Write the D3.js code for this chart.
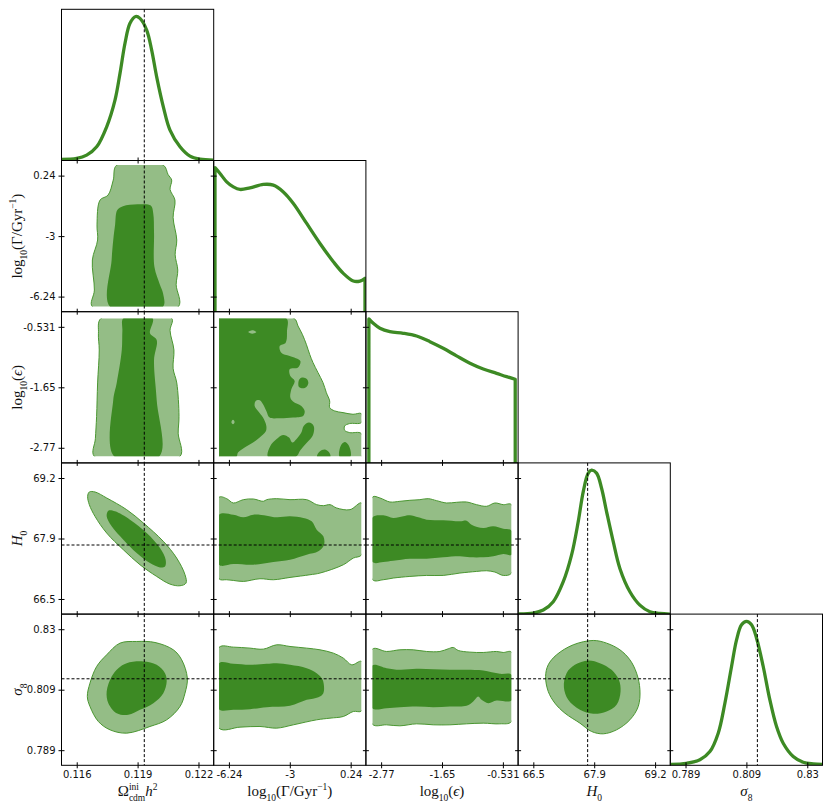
<!DOCTYPE html>
<html>
<head>
<meta charset="utf-8">
<script src="https://cdn.jsdelivr.net/npm/d3@7"></script>
<style>
  body { margin: 0; background: #fff; }
</style>
</head>
<body>
<script>
// ---- tick values and their printed labels ----
const omegaTicks = [0.1162, 0.1192, 0.1222];
const omegaLabels = ["0.116", "0.119", "0.122"];
const gammaTicks = [-6.24, -3, 0.24];
const gammaLabels = ["-6.24", "-3", "0.24"];
const epsTicks = [-2.77, -1.6505, -0.531];
const epsLabels = ["-2.77", "-1.65", "-0.531"];
const h0Ticks = [66.52, 67.85, 69.18];
const h0Labels = ["66.5", "67.9", "69.2"];
const sigmaTicks = [0.789, 0.8095, 0.830];
const sigmaLabels = ["0.789", "0.809", "0.83"];

// reference (dashed) values
const omegaRef = 0.11953;
const h0Ref = 67.707;
const sigmaRef = 0.8132;

// edges of the sampled range for the two flat-prior parameters
const gammaEdge = [-6.765, 0.805];
const epsEdge = [-2.928, -0.376];

// ---- 1D posteriors [value, relative density] ----
const omegaPost = [[0.115442,0.007],[0.116197,0.014],[0.116690,0.037],[0.117183,0.095],[0.117676,0.234],[0.118086,0.419],[0.118333,0.605],[0.118579,0.814],[0.118825,0.953],[0.119105,1.0],[0.119318,0.987],[0.119647,0.906],[0.119893,0.767],[0.120140,0.581],[0.120468,0.373],[0.120797,0.211],[0.121290,0.095],[0.121782,0.030],[0.122275,0.009],[0.122932,0.002]];
const gammaPost = [[-6.981,1.0],[-6.714,0.960],[-6.360,0.902],[-6.005,0.867],[-5.650,0.849],[-5.118,0.860],[-4.409,0.884],[-3.876,0.879],[-3.344,0.832],[-2.811,0.752],[-2.102,0.613],[-1.393,0.474],[-0.683,0.347],[-0.151,0.266],[0.381,0.213],[0.736,0.213],[1.002,0.232]];
const epsPost = [[-2.995,1.0],[-2.915,0.969],[-2.792,0.935],[-2.609,0.911],[-2.363,0.900],[-2.118,0.881],[-1.873,0.842],[-1.628,0.796],[-1.383,0.743],[-1.137,0.692],[-0.892,0.652],[-0.647,0.622],[-0.463,0.599],[-0.304,0.581]];
const h0Post = [[66.190,0.002],[66.518,0.007],[66.737,0.028],[66.955,0.086],[67.174,0.225],[67.356,0.411],[67.501,0.642],[67.611,0.851],[67.720,0.979],[67.793,1.0],[67.902,0.979],[68.011,0.874],[68.120,0.712],[68.266,0.503],[68.411,0.317],[68.630,0.155],[68.848,0.062],[69.067,0.016],[69.285,0.005],[69.504,0.0]];
const sigmaPost = [[0.783961,0.007],[0.789348,0.014],[0.793838,0.038],[0.797205,0.095],[0.800010,0.223],[0.802255,0.431],[0.804500,0.686],[0.806183,0.871],[0.807867,0.976],[0.809550,1.0],[0.811234,0.976],[0.812917,0.883],[0.815162,0.686],[0.817406,0.454],[0.819651,0.269],[0.821896,0.153],[0.825262,0.061],[0.828629,0.021],[0.831996,0.010],[0.835138,0.007]];

// ---- 2D contours [x param, y param], 95% and 68% ----
const omegaGamma95 = [[0.11817,0.80],[0.12047,0.80],[0.12070,0.3],[0.12088,0.0],[0.12080,-0.5],[0.12104,-1.07],[0.12095,-2.0],[0.12113,-3.21],[0.12105,-4.0],[0.12118,-4.82],[0.12110,-5.6],[0.12121,-6.78],[0.11697,-6.78],[0.11707,-5.89],[0.11697,-4.28],[0.11723,-3.21],[0.11720,-2.4],[0.11735,-1.07],[0.11774,-0.81],[0.11800,0.0]];
const omegaGamma68 = [[0.11809,-2.41],[0.11820,-1.6],[0.11848,-1.40],[0.11920,-1.30],[0.11985,-1.36],[0.11997,-1.77],[0.12001,-2.84],[0.12003,-4.66],[0.12030,-5.6],[0.12045,-6.05],[0.12045,-6.78],[0.11784,-6.78],[0.11792,-4.28],[0.11800,-3.21]];

const omegaEps95 = [[0.11740,-0.373],[0.12088,-0.373],[0.12080,-0.6],[0.12099,-0.96],[0.12095,-1.3],[0.12113,-1.57],[0.12124,-2.19],[0.12120,-2.5],[0.12129,-2.93],[0.11707,-2.93],[0.11712,-2.6],[0.11718,-2.19],[0.11723,-1.57],[0.11731,-0.96],[0.11727,-0.65]];
const omegaEps68 = [[0.11850,-0.373],[0.11994,-0.373],[0.11981,-0.651],[0.12014,-0.775],[0.12001,-1.145],[0.12014,-1.885],[0.12027,-2.93],[0.11805,-2.93],[0.11800,-1.885],[0.11817,-1.57],[0.11842,-0.96],[0.11845,-0.6]];

const gammaEps95 = [[-6.768,-0.374],[-2.776,-0.374],[-2.563,-0.516],[-2.333,-0.670],[-2.120,-0.855],[-1.942,-1.040],[-1.765,-1.194],[-1.499,-1.379],[-1.233,-1.564],[-1.055,-1.749],[-0.878,-1.903],[-0.878,-2.026],[-0.612,-2.088],[-0.168,-2.119],[0.364,-2.150],[0.807,-2.137],[0.807,-2.304],[0.186,-2.322],[-0.080,-2.366],[-0.080,-2.446],[0.186,-2.489],[0.807,-2.507],[0.807,-2.939],[-6.768,-2.939]];
const gammaEps68 = [[-6.768,-0.374],[-3.184,-0.374],[-3.149,-0.608],[-3.220,-0.824],[-3.539,-0.886],[-3.450,-1.009],[-3.007,-1.071],[-2.439,-1.163],[-2.563,-1.286],[-3.007,-1.317],[-2.971,-1.441],[-2.741,-1.533],[-2.918,-1.687],[-2.971,-1.841],[-2.829,-1.915],[-2.386,-1.996],[-2.209,-2.088],[-2.297,-2.181],[-2.829,-2.211],[-3.539,-2.224],[-4.071,-2.211],[-4.249,-2.088],[-4.426,-1.965],[-4.604,-1.891],[-4.816,-1.903],[-4.870,-1.996],[-4.692,-2.088],[-4.426,-2.211],[-4.249,-2.366],[-4.284,-2.470],[-4.604,-2.581],[-4.958,-2.674],[-5.402,-2.766],[-5.757,-2.859],[-5.845,-2.939],[-6.768,-2.939]];
// detached 68% blobs and small 95% islands inside the 68% area
const gammaEps68Blobs = [
  [[-2.546,-1.570],[-2.475,-1.496],[-2.297,-1.471],[-2.084,-1.502],[-2.013,-1.570],[-2.120,-1.644],[-2.297,-1.669],[-2.510,-1.644]],
  [[-4.160,-2.939],[-4.036,-2.736],[-3.716,-2.612],[-3.362,-2.532],[-3.042,-2.581],[-2.865,-2.674],[-2.652,-2.612],[-2.386,-2.489],[-2.262,-2.366],[-1.978,-2.304],[-1.730,-2.366],[-1.765,-2.532],[-2.084,-2.674],[-2.439,-2.816],[-2.687,-2.939]],
  [[-0.346,-2.939],[-0.293,-2.736],[-0.080,-2.662],[0.151,-2.736],[0.222,-2.939]],
  [[-1.552,-2.939],[-1.410,-2.840],[-1.144,-2.803],[-0.914,-2.853],[-0.843,-2.939]]
];
const gammaEpsIslands = [
  [[-5.21,-0.627],[-4.994,-0.596],[-4.78,-0.627],[-4.994,-0.658]],
  [[-6.11,-2.292],[-6.023,-2.249],[-5.935,-2.292],[-6.023,-2.335]]
];

const omegaH095 = [[0.116821,68.873],[0.117101,68.873],[0.117676,68.741],[0.118661,68.484],[0.119483,68.191],[0.120468,67.787],[0.121125,67.420],[0.121536,67.053],[0.121585,66.869],[0.121290,66.811],[0.120797,66.847],[0.120140,67.016],[0.119318,67.273],[0.118497,67.603],[0.117676,67.970],[0.117101,68.337],[0.116821,68.594],[0.116739,68.778]];
const omegaH068 = [[0.117758,68.462],[0.118086,68.448],[0.118825,68.264],[0.119647,67.970],[0.120304,67.640],[0.120583,67.383],[0.120550,67.236],[0.120304,67.214],[0.119811,67.310],[0.119154,67.530],[0.118497,67.823],[0.117922,68.117],[0.117676,68.337]];

const gammaH095 = [[-6.768,68.756],[-6.360,68.726],[-6.005,68.631],[-5.473,68.704],[-4.941,68.719],[-4.409,68.668],[-4.231,68.704],[-3.699,68.726],[-2.989,68.704],[-2.102,68.704],[-1.570,68.594],[-1.215,68.572],[-0.860,68.594],[-0.506,68.521],[0.204,68.484],[0.825,68.631],[0.825,67.493],[0.381,67.420],[-0.151,67.273],[-1.393,67.090],[-1.925,67.053],[-2.989,66.994],[-3.876,66.943],[-4.586,66.965],[-5.473,66.906],[-6.005,66.928],[-6.360,66.943],[-6.768,66.965]];
const gammaH068 = [[-6.768,68.374],[-6.005,68.374],[-5.473,68.315],[-4.941,68.374],[-4.231,68.352],[-3.699,68.315],[-2.989,68.337],[-2.279,68.301],[-1.836,68.227],[-1.570,68.044],[-1.215,67.897],[-1.179,67.714],[-1.481,67.567],[-2.102,67.493],[-2.989,67.383],[-3.876,67.332],[-4.941,67.273],[-6.005,67.288],[-6.768,67.273]];

const epsH095 = [[-2.927,68.763],[-2.792,68.741],[-2.609,68.653],[-2.425,68.668],[-2.241,68.690],[-2.057,68.704],[-1.904,68.726],[-1.750,68.682],[-1.566,68.631],[-1.383,68.646],[-1.199,68.653],[-1.015,68.594],[-0.831,68.558],[-0.678,68.631],[-0.524,68.594],[-0.371,68.594],[-0.371,67.090],[-0.524,67.038],[-0.678,67.112],[-0.831,67.141],[-1.015,67.126],[-1.321,67.090],[-1.628,67.038],[-1.934,67.038],[-2.241,67.016],[-2.547,66.980],[-2.731,66.943],[-2.927,66.943]];
const epsH068 = [[-2.927,68.315],[-2.731,68.359],[-2.547,68.301],[-2.363,68.337],[-2.241,68.359],[-2.088,68.315],[-1.934,68.264],[-1.628,68.249],[-1.321,68.227],[-1.199,68.242],[-1.107,68.154],[-0.892,68.081],[-0.708,68.117],[-0.524,68.066],[-0.371,68.022],[-0.371,67.493],[-0.524,67.508],[-0.708,67.457],[-0.892,67.435],[-1.137,67.435],[-1.321,67.457],[-1.628,67.435],[-1.934,67.405],[-2.241,67.405],[-2.547,67.361],[-2.731,67.332],[-2.927,67.332]];

const omegaSigma95 = [[0.119154,0.825848],[0.120057,0.825509],[0.120961,0.823023],[0.121372,0.819633],[0.121651,0.813418],[0.121536,0.808333],[0.121290,0.803813],[0.120633,0.799293],[0.119811,0.797033],[0.118661,0.794773],[0.117840,0.795903],[0.117265,0.798728],[0.116854,0.803813],[0.116723,0.807203],[0.116854,0.811723],[0.117183,0.817373],[0.117676,0.821328],[0.118333,0.825283]];
const omegaSigma68 = [[0.118661,0.818503],[0.119483,0.819068],[0.120140,0.817938],[0.120550,0.815113],[0.120633,0.812288],[0.120468,0.808333],[0.119976,0.804943],[0.119318,0.802683],[0.118743,0.800988],[0.118168,0.801553],[0.117758,0.804943],[0.117676,0.808898],[0.117922,0.813983],[0.118251,0.816808]];

const gammaSigma95 = [[-6.768,0.823814],[-6.005,0.823927],[-5.118,0.823588],[-4.409,0.823249],[-3.699,0.824718],[-2.989,0.824153],[-2.102,0.823588],[-1.393,0.823023],[-0.683,0.821893],[-0.151,0.820198],[0.293,0.817938],[0.825,0.819068],[0.825,0.802344],[0.381,0.802118],[-0.151,0.800423],[-0.860,0.799858],[-1.570,0.799293],[-2.811,0.797598],[-3.699,0.796468],[-4.586,0.797033],[-5.651,0.796807],[-6.768,0.796468]];
const gammaSigma68 = [[-6.768,0.818503],[-6.005,0.818277],[-5.118,0.817938],[-4.231,0.818277],[-3.699,0.818503],[-2.989,0.817938],[-2.102,0.816808],[-1.570,0.815113],[-1.251,0.812853],[-1.215,0.808333],[-1.481,0.806977],[-2.102,0.806073],[-2.989,0.804039],[-4.231,0.803587],[-5.118,0.802909],[-6.005,0.802683],[-6.768,0.802909]];

const epsSigma95 = [[-2.933,0.823249],[-2.670,0.822458],[-2.425,0.823023],[-2.180,0.823023],[-1.934,0.822458],[-1.689,0.822458],[-1.536,0.823362],[-1.444,0.823814],[-1.352,0.822797],[-1.137,0.822232],[-0.892,0.822119],[-0.647,0.822458],[-0.525,0.822119],[-0.371,0.822232],[-0.371,0.798728],[-0.586,0.797937],[-0.892,0.798163],[-1.199,0.797937],[-1.505,0.797598],[-1.812,0.797598],[-2.118,0.797937],[-2.425,0.797259],[-2.670,0.797598],[-2.933,0.797824]];
const epsSigma68 = [[-2.933,0.817712],[-2.670,0.816808],[-2.425,0.816243],[-2.118,0.816582],[-1.812,0.816469],[-1.505,0.816243],[-1.199,0.816243],[-0.892,0.816017],[-0.586,0.814887],[-0.371,0.814548],[-0.371,0.805847],[-0.647,0.805847],[-0.800,0.804943],[-0.923,0.806073],[-0.984,0.807203],[-1.076,0.805508],[-1.199,0.804039],[-1.505,0.803813],[-1.812,0.803587],[-2.118,0.803813],[-2.425,0.803587],[-2.670,0.803248],[-2.933,0.803248]];

const h0Sigma95 = [[67.829,0.826187],[68.120,0.825283],[68.412,0.823023],[68.630,0.819633],[68.776,0.815113],[68.849,0.809463],[68.812,0.803813],[68.630,0.799293],[68.339,0.795903],[68.047,0.794547],[67.792,0.795338],[67.538,0.798163],[67.210,0.801553],[66.991,0.804943],[66.846,0.808898],[66.788,0.813983],[66.846,0.817938],[67.028,0.821328],[67.392,0.824718]];
const h0Sigma68 = [[67.720,0.819407],[67.975,0.818503],[68.229,0.816243],[68.389,0.812853],[68.426,0.808898],[68.339,0.804378],[68.120,0.802118],[67.829,0.801327],[67.538,0.802683],[67.283,0.806073],[67.188,0.810367],[67.246,0.815113],[67.428,0.817938]];

// ---- layout ----
const width = 831, height = 808;
const leftX = 61.5, topY = 9.3;
const pw = 152.2, ph = 151.2;
const darkGreen = "#3d8a24";
const lightGreen = "#94bd86";
const lineGreen = "#4a9631";

const params = [
  { ticks: omegaTicks, labels: omegaLabels, ref: omegaRef, edge: null, post: omegaPost },
  { ticks: gammaTicks, labels: gammaLabels, ref: null, edge: gammaEdge, post: gammaPost },
  { ticks: epsTicks, labels: epsLabels, ref: null, edge: epsEdge, post: epsPost },
  { ticks: h0Ticks, labels: h0Labels, ref: h0Ref, edge: null, post: h0Post },
  { ticks: sigmaTicks, labels: sigmaLabels, ref: sigmaRef, edge: null, post: sigmaPost }
];
// ticks sit at 10%, 50%, 90% of each range
params.forEach(p => {
  const d = (p.ticks[2] - p.ticks[0]) / 8;
  p.domain = [p.ticks[0] - d, p.ticks[2] + d];
});

const contours = {
  "1,0": { c95: [omegaGamma95], c68: [omegaGamma68] },
  "2,0": { c95: [omegaEps95], c68: [omegaEps68] },
  "2,1": { c95: [gammaEps95], c68: [gammaEps68].concat(gammaEps68Blobs), holes: gammaEpsIslands },
  "3,0": { c95: [omegaH095], c68: [omegaH068] },
  "3,1": { c95: [gammaH095], c68: [gammaH068] },
  "3,2": { c95: [epsH095], c68: [epsH068] },
  "4,0": { c95: [omegaSigma95], c68: [omegaSigma68] },
  "4,1": { c95: [gammaSigma95], c68: [gammaSigma68] },
  "4,2": { c95: [epsSigma95], c68: [epsSigma68] },
  "4,3": { c95: [h0Sigma95], c68: [h0Sigma68] }
};

const svg = d3.select("body")
  .append("svg")
  .attr("width", width)
  .attr("height", height);
const defs = svg.append("defs");

const n = params.length;

for (let r = 0; r < n; r++) {
  for (let c = 0; c <= r; c++) {
    const x0 = leftX + c * pw, y0 = topY + r * ph;
    const g = svg.append("g");
    const xs = d3.scaleLinear().domain(params[c].domain).range([x0, x0 + pw]);
    const clipId = "clip-" + r + "-" + c;

    if (r === c) {
      // 1D posterior
      const ys = d3.scaleLinear().domain([0, 1.05]).range([y0 + ph, y0]);
      defs.append("clipPath").attr("id", clipId)
        .append("rect").attr("x", x0).attr("y", y0).attr("width", pw).attr("height", ph);
      const post = params[c].post;
      const line = d3.line().x(d => xs(d[0])).y(d => ys(d[1])).curve(d3.curveCatmullRom.alpha(0.5));
      let path = line(post);
      const first = post[0], last = post[post.length - 1];
      // flat prior edges: drop straight to zero
      if (first[1] > 0.05) path = `M${xs(first[0])},${ys(0)}L` + path.slice(1);
      if (last[1] > 0.05) path += `L${xs(last[0])},${ys(0)}`;
      g.append("path")
        .attr("clip-path", `url(#${clipId})`)
        .attr("d", path)
        .attr("fill", "none")
        .attr("stroke", darkGreen)
        .attr("stroke-width", 3.3)
        .attr("stroke-linejoin", "round");
    } else {
      const ys = d3.scaleLinear().domain(params[r].domain).range([y0 + ph, y0]);
      // clip to panel, and to the sampled range for bounded parameters
      let cx0 = x0, cx1 = x0 + pw, cy0 = y0, cy1 = y0 + ph;
      if (params[c].edge) { cx0 = Math.max(cx0, xs(params[c].edge[0])); cx1 = Math.min(cx1, xs(params[c].edge[1])); }
      if (params[r].edge) { cy0 = Math.max(cy0, ys(params[r].edge[1])); cy1 = Math.min(cy1, ys(params[r].edge[0])); }
      defs.append("clipPath").attr("id", clipId)
        .append("rect").attr("x", cx0).attr("y", cy0).attr("width", cx1 - cx0).attr("height", cy1 - cy0);

      const shape = d3.line().x(d => xs(d[0])).y(d => ys(d[1]))
        .curve(d3.curveCatmullRomClosed.alpha(0.5));
      const cg = g.append("g").attr("clip-path", `url(#${clipId})`);
      const set = contours[r + "," + c];
      set.c95.forEach(pts => cg.append("path").attr("d", shape(pts))
        .attr("fill", lightGreen).attr("stroke", lineGreen).attr("stroke-width", 1));
      set.c68.forEach(pts => cg.append("path").attr("d", shape(pts))
        .attr("fill", darkGreen).attr("stroke", "none"));
      (set.holes || []).forEach(pts => cg.append("path").attr("d", shape(pts))
        .attr("fill", lightGreen).attr("stroke", "none"));

      // horizontal reference line
      if (params[r].ref !== null) {
        g.append("line")
          .attr("x1", x0).attr("x2", x0 + pw)
          .attr("y1", ys(params[r].ref)).attr("y2", ys(params[r].ref))
          .attr("stroke", "#000").attr("stroke-width", 1).attr("stroke-dasharray", "3,2");
      }
    }

    // vertical reference line
    if (params[c].ref !== null) {
      g.append("line")
        .attr("x1", xs(params[c].ref)).attr("x2", xs(params[c].ref))
        .attr("y1", y0).attr("y2", y0 + ph)
        .attr("stroke", "#000").attr("stroke-width", 1).attr("stroke-dasharray", "3,2");
    }

    // frame
    g.append("rect")
      .attr("x", x0).attr("y", y0).attr("width", pw).attr("height", ph)
      .attr("fill", "none").attr("stroke", "#000").attr("stroke-width", 1);

    // bottom ticks
    const bottomRow = r === n - 1;
    [3, -3].forEach(size => {
      const ax = g.append("g")
        .attr("transform", `translate(0,${y0 + ph})`)
        .call(d3.axisBottom(xs).tickValues(params[c].ticks).tickSize(size).tickPadding(2.5)
          .tickFormat((d, i) => (bottomRow && size > 0) ? params[c].labels[i] : ""));
      ax.select(".domain").remove();
    });

    // left ticks (rows below the first)
    if (r > 0) {
      const yr = d3.scaleLinear().domain(params[r].domain).range([y0 + ph, y0]);
      [3, -3].forEach(size => {
        const ax = g.append("g")
          .attr("transform", `translate(${x0},0)`)
          .call(d3.axisLeft(yr).tickValues(params[r].ticks).tickSize(size).tickPadding(3)
            .tickFormat((d, i) => (c === 0 && size > 0) ? params[r].labels[i] : ""));
        ax.select(".domain").remove();
      });
    }
  }
}

svg.selectAll(".tick text")
  .attr("font-family", "DejaVu Sans")
  .attr("font-size", 10)
  .attr("fill", "#111");
svg.selectAll(".tick line").attr("stroke", "#000").attr("stroke-width", 1);

// ---- axis titles (math style) ----
const axisTitles = [
  [{ t: "Ω" }, { t: "ini", sup: true }, { t: "cdm", sub: true, back: true }, { t: "h", it: true }, { t: "2", sup: true }],
  [{ t: "log" }, { t: "10", sub: true }, { t: "(Γ/Gyr" }, { t: "−1", sup: true }, { t: ")" }],
  [{ t: "log" }, { t: "10", sub: true }, { t: "(" }, { t: "ϵ", it: true }, { t: ")" }],
  [{ t: "H", it: true }, { t: "0", sub: true }],
  [{ t: "σ", it: true }, { t: "8", sub: true }]
];

function mathText(sel, parts) {
  const text = sel.append("text")
    .attr("font-family", "Liberation Serif")
    .attr("font-size", 15)
    .attr("fill", "#111")
    .attr("text-anchor", "middle");
  let shift = 0, prev = null;
  parts.forEach(p => {
    const target = p.sup ? -6.5 : p.sub ? 4.5 : 0;
    const ts = text.append("tspan")
      .attr("font-size", (p.sup || p.sub) ? 9.5 : 15)
      .attr("font-style", p.it ? "italic" : "normal")
      .attr("dy", target - shift)
      .text(p.t);
    if (p.back && prev) ts.attr("dx", -prev.node().getComputedTextLength());
    shift = target;
    prev = ts;
  });
  return text;
}

axisTitles.forEach((parts, i) => {
  const cx = leftX + i * pw + pw / 2;
  mathText(svg.append("g").attr("transform", `translate(${cx},796)`), parts);
  if (i > 0) {
    const cy = topY + i * ph + ph / 2;
    mathText(svg.append("g").attr("transform", `translate(22,${cy}) rotate(-90)`), parts);
  }
});
</script>
</body>
</html>
